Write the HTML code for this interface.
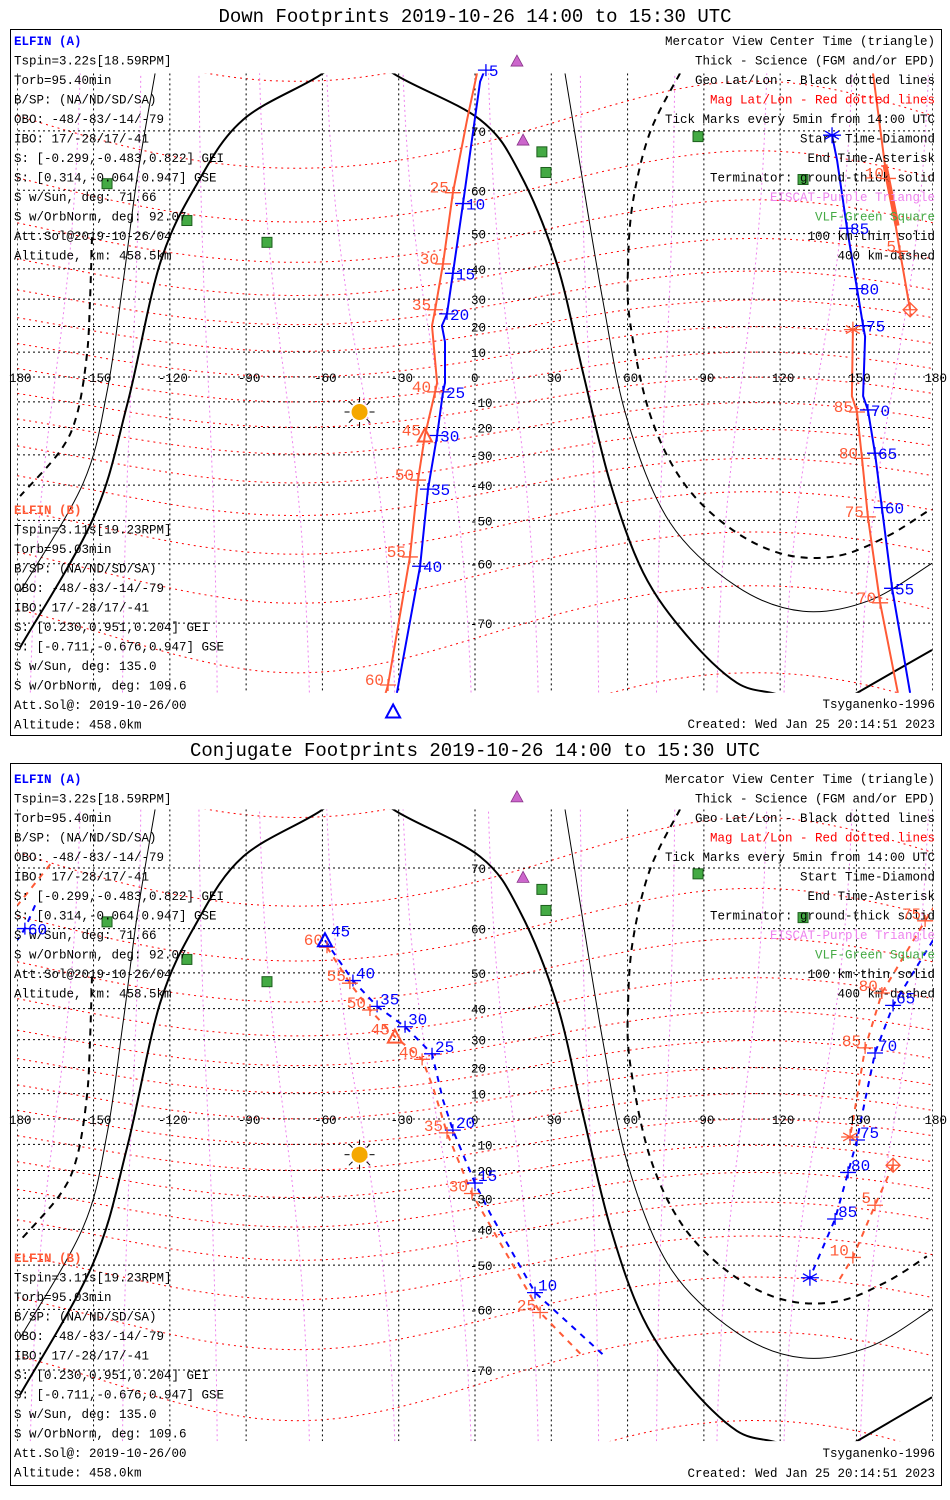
<!DOCTYPE html>
<html><head><meta charset="utf-8"><title>ELFIN Footprints</title>
<style>
html,body{margin:0;padding:0;background:#fff;}
svg{display:block;}
text{font-family:"Liberation Mono",monospace;}
</style></head>
<body>
<svg id="chart" width="950" height="1500" viewBox="0 0 950 1500" xmlns="http://www.w3.org/2000/svg">
<rect x="0" y="0" width="950" height="1500" fill="#fff"/>
</svg>
<script>
// ---- Data (geographic lon/lat, degrees) ----
const gridLats = [70,60,50,40,30,20,10,0,-10,-20,-30,-40,-50,-60,-70];
const gridLons = [-180,-150,-120,-90,-60,-30,0,30,60,90,120,150,180];
const magLats = [-80,-70,-60,-50,-40,-30,-20,-10,0,10,20,30,40,50,60,70,80];
const magLons = [-165,-135,-105,-75,-45,-15,15,45,75,105,135,165];

// Terminator ground (thick solid)
const termGroundLon = [-178.9,-150.2,-136.8,-123.9,-109.3,-91.2,-59.8,-46,-32.2,2.0,17.7,32.2,42.5,53.1,66.1,83.4,103.0,119.9,135,148.6,179.7];
const termGroundLat = [-73.1,-49.6,-11.2,41.5,61.3,71.5,76.6,79.5,76.6,71.5,63.2,41.5,1.6,-39.0,-61.7,-71.7,-76.8,-77.9,-79.5,-77.9,-73.4];
// 100 km (thin solid), two pieces
const term100aLon = [35.4,41.3,50.3,59.8,76.7,103.0,129.0,155.3,179.7];
const term100aLat = [76.6,64.8,29.4,-16.8,-50.6,-64.3,-68.3,-66.6,-59.9];
const term100bLon = [-125.8,-132.9,-138.4,-144.7,-154.1,-178.9];
const term100bLat = [76.6,62.3,35.5,-6.0,-39.4,-65.2];
// 400 km (dashed), two pieces
const term400aLon = [80.6,68.8,62.1,60.2,61.0,68.8,81.8,100.3,121.1,142.4,162.0,177.7];
const term400aLat = [76.6,69.8,57.6,41.5,21.5,-14.9,-39.0,-52.0,-58.0,-58.4,-54.0,-47.7];
const term400bLon = [-150.6,-151.4,-152.6,-156.5,-163.2,-178.9];
const term400bLat = [49.1,29.4,8.9,-14.9,-28.7,-43.3];

const sunLon = -45.4, sunLat = -14.0;
const eiscatLon = [16.5,18.9];
const eiscatLat = [77.7,68.7];
const vlfLon = [26.3,27.9,87.7,129.0,-144.7,-113.3,-81.8];
const vlfLat = [66.9,63.4,69.2,62.1,61.3,53.3,47.7];

// ---- Down footprints (top panel) ----
const dA1Lon = [5.5,4.7,2.0,-4.7,-8.7,-11.0,-13.0,-11.8,-11.8,-12.6,-14.9,-18.5,-21.6,-30.7];
const dA1Lat = [79,77.4,75.8,57.2,38.6,24.7,20.3,14.0,-2.4,-6.0,-23.0,-41.2,-60.5,-77.7];
const dA1TickLon = [4.3,-4.7,-8.7,-11.0,-12.6,-14.9,-18.5,-21.6];
const dA1TickLat = [76.9,57.2,38.6,24.7,-6.0,-23.0,-41.2,-60.5];
const dA1TickLab = ["5","10","15","20","25","30","35","40"];
const dA2Lon = [140.4,142.4,146.3,150.2,152.6,153.4,152.6,154.5,157.3,160.0,164.0,171.1];
const dA2Lat = [69.4,65.5,51.4,33.6,20.3,16.1,-7.7,-13.2,-29.4,-46.6,-64.6,-77.7];
const dA2TickLon = [146.3,150.2,152.6,154.5,157.3,160.0,164.0];
const dA2TickLat = [51.4,33.6,20.3,-13.2,-29.4,-46.6,-64.6];
const dA2TickLab = ["85","80","75","70","65","60","55"];
const dACenterLon = -32.2, dACenterLat = -79.2;

const dB1Lon = [0.8,-3.1,-8.7,-12.6,-15.7,-16.9,-14.9,-15.7,-19.7,-22.4,-25.6,-34.2,-35.4];
const dB1Lat = [76.6,71.5,59.5,41.5,26.2,20.3,-2.4,-6.0,-23.0,-38.4,-58.6,-77.0,-77.9];
const dB1TickLon = [-8.7,-12.6,-15.7,-15.7,-22.4,-25.6,-34.2];
const dB1TickLat = [59.5,41.5,26.2,-6.0,-38.4,-58.6,-77.0];
const dB1TickLab = ["25","30","35","40","50","55","60"];
const dBCenterLon = -19.7, dBCenterLat = -23.0;
const dB2Lon = [156.5,161.2,162.4,167.1,171.1];
const dB2Lat = [76.6,64.8,62.3,45.2,26.2];
const dB2TickLon = [162.4,167.1];
const dB2TickLat = [62.3,45.2];
const dB2TickLab = ["10","5"];
const dB3Lon = [166.3,159.3,154.5,152.2,150.2,148.2,148.6];
const dB3Lat = [-77.7,-67.0,-49.1,-31.2,-14.0,-7.7,18.8];
const dB3TickLon = [159.3,154.5,152.2,150.2];
const dB3TickLat = [-67.0,-49.1,-31.2,-14.0];
const dB3TickLab = ["70","75","80","85"];

// ---- Conjugate footprints (bottom panel) ----
const cA1Lon = [-59.0,-48.0,-38.5,-27.5,-16.9,-12.6,-8.7,0,5.9,23.6,50.3];
const cA1Lat = [57.6,48.0,40.7,34.3,25.0,7.5,-4.4,-24.6,-34.9,-56.5,-67.8];
const cA1TickLon = [-48.0,-38.5,-27.5,-16.9,-8.7,0,23.6];
const cA1TickLat = [48.0,40.7,34.3,25.0,-4.4,-24.6,-56.5];
const cA1TickLab = ["40","35","30","25","20","15","10"];
const cA2Lon = [180.1,164.4,157.3,152.6,150.2,146.7,141.6,131.7];
const cA2Lat = [57.6,41.0,25.3,3.6,-8.3,-20.7,-36.8,-53.1];
const cA2TickLon = [164.4,157.3,150.2,146.7,141.6];
const cA2TickLat = [41.0,25.3,-8.3,-20.7,-36.8];
const cA2TickLab = ["65","70","75","80","85"];
const cA3Lon = [-173,-177,-179.9];
const cA3Lat = [64.3,60.0,57.7];
const cA3TickLon = [-177];
const cA3TickLat = [60.0];
const cA3TickLab = ["60"];

const cB1Lon = [-58.2,-49.2,-41.3,-31.5,-20.8,-16.5,-11.0,-1.2,25.6,42.5];
const cB1Lat = [56.1,47.3,39.6,31.0,23.0,12.5,-5.5,-28.3,-60.6,-68.1];
const cB1TickLon = [-58.2,-49.2,-41.3,-20.8,-11.0,-1.2,25.6];
const cB1TickLat = [56.1,47.3,39.6,23.0,-5.5,-28.3,-60.6];
const cB1TickLab = ["60","55","50","40","35","30","25"];
const cB2Lon = [180.9,177.0,160.0,153.4,150.2,147.5];
const cB2Lat = [64.3,61.5,44.6,27.1,8.7,-7.1];
const cB2TickLon = [177.0,160.0,153.4];
const cB2TickLat = [61.5,44.6,27.1];
const cB2TickLab = ["75","80","85"];
const cB3Lon = [164.4,157.3,148.6,142.4];
const cB3Lat = [-18.0,-32.3,-48.0,-54.4];
const cB3TickLon = [157.3,148.6];
const cB3TickLat = [-32.3,-48.0];
const cB3TickLab = ["5","10"];
const cB4Lon = [-167,-179.9];
const cB4Lat = [70.5,64.3];

const infoA = ["Tspin=3.22s[18.59RPM]","Torb=95.40min","B/SP: (NA/ND/SD/SA)","OBO: -48/-83/-14/-79","IBO: 17/-28/17/-41","S: [-0.299,-0.483,0.822] GEI","S: [0.314,-0.064,0.947] GSE","S w/Sun, deg: 71.66","S w/OrbNorm, deg: 92.07","Att.Sol@2019-10-26/04","Altitude, km: 458.5km"];
const infoB = ["Tspin=3.11s[19.23RPM]","Torb=95.03min","B/SP: (NA/ND/SD/SA)","OBO: -48/-83/-14/-79","IBO: 17/-28/17/-41","S: [0.230,0.951,0.204] GEI","S: [-0.711,-0.676,0.947] GSE","S w/Sun, deg: 135.0","S w/OrbNorm, deg: 109.6","Att.Sol@: 2019-10-26/00","Altitude: 458.0km"];
const legendLines = ["Mercator View Center Time (triangle)","Thick - Science (FGM and/or EPD)","Geo Lat/Lon - Black dotted lines","Mag Lat/Lon - Red dotted lines","Tick Marks every 5min from 14:00 UTC","Start Time-Diamond","End Time-Asterisk","Terminator: ground-thick solid","EISCAT-Purple Triangle","VLF-Green Square","100 km-thin solid","400 km-dashed"];
const legendColors = ["#000","#000","#000","#ff0000","#000","#000","#000","#000","#ee82ee","#44aa44","#000","#000"];

// ---- Rendering ----
const NS = "http://www.w3.org/2000/svg";
const svg = document.getElementById("chart");
const BLUE = "#0000ff", ORANGE = "#ff5a36";
const panels = [
  {top:29,bottom:735,eqY:377,k:141.8,titleY:22,title:"Down Footprints 2019-10-26 14:00 to 15:30 UTC",t0:41,b0:510,end:724,name:"down"},
  {top:763,bottom:1485,eqY:1119,k:144.6,titleY:756,title:"Conjugate Footprints 2019-10-26 14:00 to 15:30 UTC",t0:779,b0:1258,end:1473,name:"conjugate"}
];
function X(lon){ return 475 + lon*2.543; }
function Y(p,lat){ const r=lat*Math.PI/180; return p.eqY - p.k*Math.log(Math.tan(Math.PI/4 + r/2)); }
function mk(tag, attrs, parent){ const e=document.createElementNS(NS,tag); for(const k in attrs) e.setAttribute(k,attrs[k]); (parent||svg).appendChild(e); return e; }
function pathD(p, lons, lats){ let d=""; for(let i=0;i<lons.length;i++){ d += (i? "L":"M") + X(lons[i]).toFixed(1)+","+Y(p,lats[i]).toFixed(1); } return d; }
function smoothD(p, lons, lats){
  const P = lons.map((lo,i)=>[X(lo), Y(p,lats[i])]);
  let d = "M"+P[0][0].toFixed(1)+","+P[0][1].toFixed(1);
  for(let i=0;i<P.length-1;i++){
    const p0=P[Math.max(0,i-1)], p1=P[i], p2=P[i+1], p3=P[Math.min(P.length-1,i+2)];
    const c1=[p1[0]+(p2[0]-p0[0])/6, p1[1]+(p2[1]-p0[1])/6];
    const c2=[p2[0]-(p3[0]-p1[0])/6, p2[1]-(p3[1]-p1[1])/6];
    d += "C"+c1[0].toFixed(1)+","+c1[1].toFixed(1)+" "+c2[0].toFixed(1)+","+c2[1].toFixed(1)+" "+p2[0].toFixed(1)+","+p2[1].toFixed(1);
  }
  return d;
}

panels.forEach((p,pi)=>{
  const g = mk("g",{});
  
  
  const title = mk("text",{x:475,y:p.titleY,"text-anchor":"middle","font-size":"19"},g);
  title.textContent = p.title;
  
  
  const frame = mk("rect",{x:10.5,y:p.top+0.5,width:931,height:p.bottom-p.top,fill:"none",stroke:"#000","stroke-width":1},g);
  
  
  const yTop = Y(p,76.6), yBot = Y(p,-77.7);
  const cp = mk("clipPath",{id:"clip"+pi},g);
  mk("rect",{x:17,y:yTop,width:916,height:yBot-yTop},cp);
  const m = mk("g",{"clip-path":"url(#clip"+pi+")"},g);
  
  
  magLats.forEach(ml=>{
    const lo=[],la=[];
    for(let lon=-180;lon<=180;lon+=5){ lo.push(lon); la.push(ml + 10*Math.sin((lon-20)*Math.PI/180)*Math.sqrt(Math.cos(ml*Math.PI/180))); }
    const e=mk("path",{d:pathD(p,lo,la),fill:"none",stroke:"#ff0000","stroke-width":1,"stroke-dasharray":"2,4"},m);
    
    
  });
  magLons.forEach(L=>{
    const lo=[],la=[];
    for(let lat=-80;lat<=80;lat+=5){ la.push(lat); lo.push(L + 0.18*lat*Math.sin((L-60)*Math.PI/180)); }
    const e=mk("path",{d:pathD(p,lo,la),fill:"none",stroke:"#ee82ee","stroke-width":1,"stroke-dasharray":"2,3"},m);
    
    
  });
  gridLats.forEach(lat=>{
    const y=Y(p,lat);
    const e=mk("line",{x1:18,x2:932,y1:y,y2:y,stroke:"#000","stroke-width":1,"stroke-dasharray":"2,3"},m);
    
    
  });
  gridLons.forEach(lon=>{
    const x=X(lon);
    const e=mk("line",{x1:x,x2:x,y1:yTop,y2:yBot,stroke:"#000","stroke-width":1,"stroke-dasharray":"2,3"},m);
    
    
  });
  const terms = [[termGroundLon,termGroundLat,2,null,"terminator-ground"],[term100aLon,term100aLat,1,null,"terminator-100km"],[term100bLon,term100bLat,1,null,"terminator-100km"],[term400aLon,term400aLat,2,"7,6","terminator-400km"],[term400bLon,term400bLat,2,"7,6","terminator-400km"]];
  terms.forEach(t=>{
    const a={d:smoothD(p,t[0],t[1]),fill:"none",stroke:"#000","stroke-width":t[2]};
    if(t[3]) a["stroke-dasharray"]=t[3];
    const e=mk("path",a,m);
    
    
  });
  gridLons.forEach(lon=>{
    if(lon===0) return;
    const e=mk("text",{x:X(lon)+3,y:p.eqY+5,"text-anchor":"middle","font-size":"12.5",fill:"#000"},g);
    e.textContent = lon===-180 ? "180" : String(lon);
    
    
  });
  gridLats.forEach(lat=>{
    const e=mk("text",{x:lat<0?470:471,y:Y(p,lat)+5,"font-size":"12.5",fill:"#000"},g);
    e.textContent = String(lat);
    
    
  });
  const sx=X(sunLon), sy=Y(p,sunLat);
  const sg=mk("g",{},g);
  
  
  for(let a=0;a<8;a++){ const r=a*Math.PI/4; mk("line",{x1:sx+10*Math.cos(r),y1:sy+10*Math.sin(r),x2:sx+15*Math.cos(r),y2:sy+15*Math.sin(r),stroke:"#000","stroke-width":1},sg); }
  mk("circle",{cx:sx,cy:sy,r:8,fill:"#f5a800"},sg);
  eiscatLon.forEach((lo,i)=>{
    const x=X(lo), y=Y(p,eiscatLat[i]);
    const e=mk("polygon",{points:`${x},${y-6} ${x-6},${y+5} ${x+6},${y+5}`,fill:"#cc66cc",stroke:"#883388","stroke-width":0.8},g);
    
    
  });
  vlfLon.forEach((lo,i)=>{
    const x=X(lo), y=Y(p,vlfLat[i]);
    const e=mk("rect",{x:x-5,y:y-5,width:10,height:10,fill:"#44aa44",stroke:"#1d5f1d","stroke-width":1},g);
    
    
  });
  const tA=mk("text",{x:14,y:p.t0+4,"font-size":"12.5",fill:BLUE,"font-weight":"bold"},g);
  tA.textContent="ELFIN (A)";
  
  
  infoA.forEach((s,i)=>{
    const e=mk("text",{x:14,y:p.t0+4+(i+1)*19.5,"font-size":"12.5",fill:"#000"},g);
    e.textContent=s;
    
    
  });
  const tB=mk("text",{x:14,y:p.b0+4,"font-size":"12.5",fill:ORANGE,"font-weight":"bold"},g);
  tB.textContent="ELFIN (B)";
  
  
  infoB.forEach((s,i)=>{
    const e=mk("text",{x:14,y:p.b0+4+(i+1)*19.5,"font-size":"12.5",fill:"#000"},g);
    e.textContent=s;
    
    
  });
  legendLines.forEach((s,i)=>{
    const e=mk("text",{x:935,y:p.t0+4+i*19.5,"text-anchor":"end","font-size":"12.5",fill:legendColors[i]},g);
    e.textContent=s;
    
    
  });
  const ts=mk("text",{x:935,y:p.end-20+4,"text-anchor":"end","font-size":"12.5",fill:"#000"},g);
  ts.textContent="Tsyganenko-1996";
  
  
  const cr=mk("text",{x:935,y:p.end+4,"text-anchor":"end","font-size":"12.5",fill:"#000"},g);
  cr.textContent="Created: Wed Jan 25 20:14:51 2023";
  
  
  p.g=g; p.m=m;
});

function track(p, lons, lats, color, dashed, name){
  const a={d:pathD(p,lons,lats),fill:"none",stroke:color,"stroke-width":2};
  if(dashed) a["stroke-dasharray"]="6,6";
  const e=mk("path",a,p.m);
  
  
}
function ticks(p, lons, lats, labs, color, side, dy){
  lons.forEach((lo,i)=>{
    const x=X(lo), y=Y(p,lats[i]);
    const e=mk("path",{d:`M${x-8},${y}L${x+8},${y}M${x},${y-6}L${x},${y+6}`,stroke:color,"stroke-width":1.3,fill:"none"},p.g);
    
    
    const t=mk("text",{x: side>0 ? x+3 : x-4, y:y+dy,"text-anchor": side>0?"start":"end","font-size":"16",fill:color},p.g);
    t.textContent=labs[i];
    
    
  });
}
function triangle(p, lo, la, color, name){
  const x=X(lo), y=Y(p,la);
  const e=mk("polygon",{points:`${x},${y-7} ${x-7},${y+6} ${x+7},${y+6}`,fill:"none",stroke:color,"stroke-width":2},p.g);
  
  
}
function asterisk(p, lo, la, color, name){
  const x=X(lo), y=Y(p,la); let d="";
  for(let a=0;a<3;a++){ const r=a*Math.PI/3+Math.PI/6; d+=`M${x-8*Math.cos(r)},${y-8*Math.sin(r)}L${x+8*Math.cos(r)},${y+8*Math.sin(r)}`; }
  d+=`M${x-9},${y}L${x+9},${y}`;
  const e=mk("path",{d:d,stroke:color,"stroke-width":1.3,fill:"none"},p.g);
  
  
}
function diamond(p, lo, la, color, name){
  const x=X(lo), y=Y(p,la);
  const e=mk("path",{d:`M${x},${y-7}L${x+7},${y}L${x},${y+7}L${x-7},${y}ZM${x-7},${y}L${x+7},${y}M${x},${y-7}L${x},${y+7}`,stroke:color,"stroke-width":1.3,fill:"none"},p.g);
  
  
}

const P0=panels[0], P1=panels[1];
track(P0,dB1Lon,dB1Lat,ORANGE,false,'elfin-b-track');
track(P0,dB2Lon,dB2Lat,ORANGE,false,'elfin-b-track');
track(P0,dB3Lon,dB3Lat,ORANGE,false,'elfin-b-track');
track(P0,dA1Lon,dA1Lat,BLUE,false,'elfin-a-track');
track(P0,dA2Lon,dA2Lat,BLUE,false,'elfin-a-track');
{ const e=mk("path",{d:pathD(P0,[161.2,166.0],[64.8,52.0]),stroke:ORANGE,"stroke-width":5,fill:"none"},P0.m);
  
   }
ticks(P0,dA1TickLon,dA1TickLat,dA1TickLab,BLUE,1,6);
ticks(P0,dA2TickLon,dA2TickLat,dA2TickLab,BLUE,1,6);
ticks(P0,dB1TickLon,dB1TickLat,dB1TickLab,ORANGE,-1,0);
ticks(P0,dB2TickLon,dB2TickLat,dB2TickLab,ORANGE,-1,0);
ticks(P0,dB3TickLon,dB3TickLat,dB3TickLab,ORANGE,-1,0);
triangle(P0,dACenterLon,dACenterLat,BLUE,'elfin-a-center-triangle');
triangle(P0,dBCenterLon,dBCenterLat,ORANGE,'elfin-b-center-triangle');
{ const t=mk("text",{x:X(dBCenterLon)-4,y:Y(P0,dBCenterLat),"text-anchor":"end","font-size":"16",fill:ORANGE},P0.g);
  t.textContent="45";
  
   }
asterisk(P0,dA2Lon[0],dA2Lat[0],BLUE,'elfin-a-end-asterisk');
asterisk(P0,dB3Lon[dB3Lon.length-1],dB3Lat[dB3Lat.length-1],ORANGE,'elfin-b-end-asterisk');
diamond(P0,dB2Lon[dB2Lon.length-1],dB2Lat[dB2Lat.length-1],ORANGE,'elfin-b-start-diamond');

track(P1,cB1Lon,cB1Lat,ORANGE,true,'elfin-b-track');
track(P1,cB2Lon,cB2Lat,ORANGE,true,'elfin-b-track');
track(P1,cB3Lon,cB3Lat,ORANGE,true,'elfin-b-track');
track(P1,cB4Lon,cB4Lat,ORANGE,true,'elfin-b-track');
track(P1,cA1Lon,cA1Lat,BLUE,true,'elfin-a-track');
track(P1,cA2Lon,cA2Lat,BLUE,true,'elfin-a-track');
track(P1,cA3Lon,cA3Lat,BLUE,true,'elfin-a-track');
ticks(P1,cA1TickLon,cA1TickLat,cA1TickLab,BLUE,1,-2);
ticks(P1,cA2TickLon,cA2TickLat,cA2TickLab,BLUE,1,-2);
ticks(P1,cA3TickLon,cA3TickLat,cA3TickLab,BLUE,1,6);
ticks(P1,cB1TickLon,cB1TickLat,cB1TickLab,ORANGE,-1,-2);
ticks(P1,cB2TickLon,cB2TickLat,cB2TickLab,ORANGE,-1,-2);
ticks(P1,cB3TickLon,cB3TickLat,cB3TickLab,ORANGE,-1,-2);
triangle(P1,cA1Lon[0],cA1Lat[0],BLUE,'elfin-a-center-triangle');
{ const t=mk("text",{x:X(cA1Lon[0])+6,y:Y(P1,cA1Lat[0])-4,"font-size":"16",fill:BLUE},P1.g);
  t.textContent="45";
  
   }
triangle(P1,cB1Lon[3],cB1Lat[3],ORANGE,'elfin-b-center-triangle');
{ const t=mk("text",{x:X(cB1Lon[3])-5,y:Y(P1,cB1Lat[3])-2,"text-anchor":"end","font-size":"16",fill:ORANGE},P1.g);
  t.textContent="45";
  
   }
asterisk(P1,cA2Lon[cA2Lon.length-1],cA2Lat[cA2Lat.length-1],BLUE,'elfin-a-end-asterisk');
asterisk(P1,cB2Lon[cB2Lon.length-1],cB2Lat[cB2Lat.length-1],ORANGE,'elfin-b-end-asterisk');
diamond(P1,cB3Lon[0],cB3Lat[0],ORANGE,'elfin-b-start-diamond');
</script>
</body></html>
